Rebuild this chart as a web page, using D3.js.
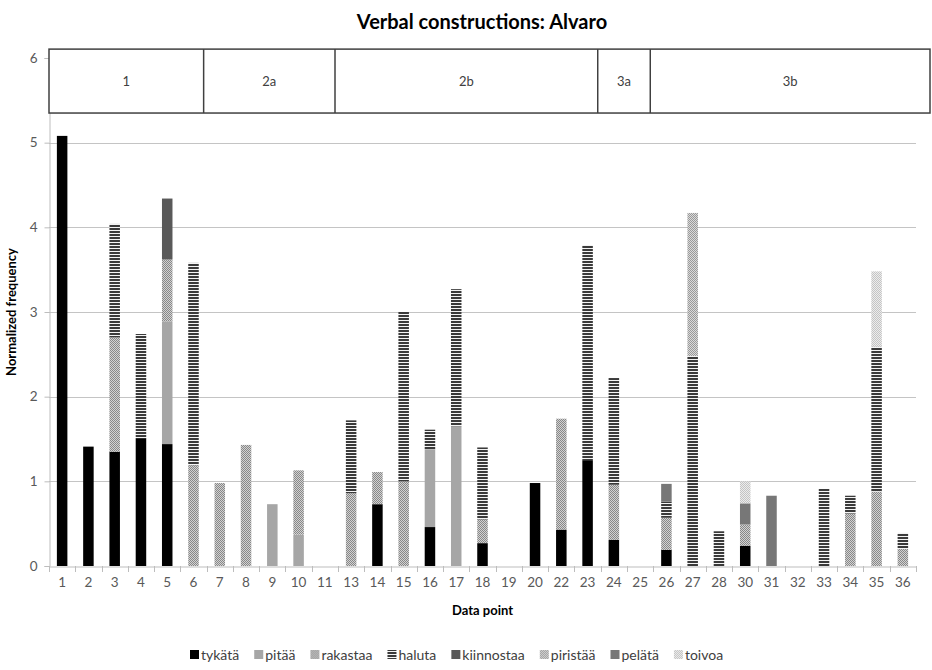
<!DOCTYPE html>
<html><head><meta charset="utf-8">
<script src="https://cdn.jsdelivr.net/npm/d3@7"></script>
<style>body{margin:0;background:#fff} svg{display:block;font-family:Lato,"Open Sans",sans-serif}</style>
</head><body><svg id="c" width="932" height="670"></svg>
<script>
// ---- data ----
const categories = ["1","2","3","4","5","6","7","8","9","10","11","13","14","15","16","17","18","19","20","22","23","24","25","26","27","28","30","31","32","33","34","35","36"];
const seriesNames = ["tykätä","pitää","rakastaa","haluta","kiinnostaa","piristää","pelätä","toivoa"];
const tykata     = [5.08,1.41,1.35,1.51,1.44,0,0,0,0,0,0, 0,0.73,0,0.46,0,0.27,0,0.98,0.43,1.25,0.31,0,0.19,0,0,0.24,0,0,0,0,0,0];
const pitaa      = [0,0,0,0,1.45,0,0,0,0.73,0.37,0, 0,0,0,0.92,1.65,0,0,0,0,0,0,0,0,0,0,0,0,0,0,0,0,0];
const rakastaa   = [0,0,1.35,0,0.73,1.19,0.98,1.43,0,0.76,0, 0.86,0.38,1.0,0,0,0.28,0,0,1.31,0,0.65,0,0.38,0,0,0.25,0,0,0,0.62,0.88,0.20];
const haluta     = [0,0,1.34,1.23,0,2.39,0,0,0,0,0, 0.86,0,2.0,0.23,1.62,0.85,0,0,0,2.54,1.26,0,0.19,2.48,0.41,0,0,0,0.91,0.21,1.71,0.19];
const kiinnostaa = [0,0,0,0,0.72,0,0,0,0,0,0, 0,0,0,0,0,0,0,0,0,0,0,0,0,0,0,0,0,0,0,0,0,0];
const piristaa   = [0,0,0,0,0,0,0,0,0,0,0, 0,0,0,0,0,0,0,0,0,0,0,0,0,1.69,0,0,0,0,0,0,0,0];
const pelata     = [0,0,0,0,0,0,0,0,0,0,0, 0,0,0,0,0,0,0,0,0,0,0,0,0.21,0,0,0.25,0.83,0,0,0,0,0];
const toivoa     = [0,0,0,0,0,0,0,0,0,0,0, 0,0,0,0,0,0,0,0,0,0,0,0,0,0,0,0.26,0,0,0,0,0.89,0];
const seriesValues = [tykata,pitaa,rakastaa,haluta,kiinnostaa,piristaa,pelata,toivoa];
const yTicks = [0,1,2,3,4,5,6];
const phaseLabels = ["1","2a","2b","3a","3b"];
const phaseFirst  = ["1","7","13","24","26"];
const title = "Verbal constructions: Alvaro";
const yTitle = "Normalized frequency";
const xTitle = "Data point";

// ---- layout ----
const L = 49, R = 916, T = 58, B = 566;
const svg = d3.select("#c");
const x = d3.scaleBand().domain(categories).range([L, R]).paddingInner(0.6).paddingOuter(0.3);
const y = d3.scaleLinear().domain([0, 6]).range([B, T]);
const step = x.step(), bw = x.bandwidth();
const gapHalf = (step - bw) / 2;

// patterns
const defs = svg.append("defs");
function checker(id, a, b) {
  const p = defs.append("pattern").attr("id", id).attr("patternUnits", "userSpaceOnUse").attr("width", 2).attr("height", 2);
  p.append("rect").attr("width", 2).attr("height", 2).attr("fill", b);
  p.append("rect").attr("x", 0).attr("y", 0).attr("width", 1).attr("height", 1).attr("fill", a);
  p.append("rect").attr("x", 1).attr("y", 1).attr("width", 1).attr("height", 1).attr("fill", a);
}
checker("pRak", "#888888", "#d2d2d2");
checker("pPir", "#999999", "#dadada");
checker("pToi", "#c4c4c4", "#ececec");
(function(){
  const p = defs.append("pattern").attr("id", "pHal").attr("patternUnits", "userSpaceOnUse").attr("width", 4).attr("height", 3);
  p.append("rect").attr("width", 4).attr("height", 3).attr("fill", "#f4f4f4");
  p.append("rect").attr("y", 0).attr("width", 4).attr("height", 2).attr("fill", "#3a3a3a");
})();
const fills = ["#000000","#a6a6a6","url(#pRak)","url(#pHal)","#595959","url(#pPir)","#777777","url(#pToi)"];

// gridlines
svg.append("g").selectAll("line").data(yTicks.filter(d => d > 0 && d < 6)).join("line")
  .attr("x1", L).attr("x2", R).attr("y1", d => Math.round(y(d)) + 0.5).attr("y2", d => Math.round(y(d)) + 0.5)
  .attr("stroke", "#c4c4c4").attr("stroke-width", 1);

// y axis
const yAxis = svg.append("g").attr("transform", `translate(${L + 0.5},0)`)
  .call(d3.axisLeft(y).tickValues(yTicks).tickSize(5).tickPadding(7).tickFormat(d3.format("d")));
yAxis.select(".domain").attr("stroke", "#bdbdbd");
yAxis.selectAll(".tick line").attr("stroke", "#bdbdbd");
yAxis.selectAll(".tick text").attr("font-size", 13.5).attr("fill", "#595959").attr("font-family", "Lato");

// x axis
const xAxis = svg.append("g").attr("transform", `translate(0,${B + 0.5})`)
  .call(d3.axisBottom(x).tickSize(0).tickPadding(11));
xAxis.select(".domain").attr("stroke", "#bdbdbd");
xAxis.selectAll(".tick text").attr("font-size", 13.5).attr("fill", "#595959").attr("font-family", "Lato");
svg.append("g").selectAll("line").data(categories.concat(["__end"])).join("line")
  .attr("x1", d => Math.round(d === "__end" ? R : x(d) - gapHalf) + 0.5)
  .attr("x2", d => Math.round(d === "__end" ? R : x(d) - gapHalf) + 0.5)
  .attr("y1", B).attr("y2", B + 6).attr("stroke", "#bdbdbd");

// stacked bars
const rows = categories.map((c, i) => { const o = { cat: c }; seriesNames.forEach((s, k) => o[s] = seriesValues[k][i]); return o; });
const stacked = d3.stack().keys(seriesNames)(rows);
svg.append("g").selectAll("g").data(stacked).join("g")
  .attr("fill", (d, i) => fills[i])
  .selectAll("rect").data(d => d.filter(v => v[1] - v[0] > 0)).join("rect")
  .attr("x", d => x(d.data.cat)).attr("width", bw)
  .attr("y", d => y(d[1])).attr("height", d => y(d[0]) - y(d[1]));

// phase box
const boxTop = y(6.105), boxBot = y(5.35);
const phaseEdges = phaseFirst.map((c, i) => i === 0 ? L : x(c) - gapHalf - 3);
const boxRight = R + 14;
const bg = svg.append("g");
bg.append("rect").attr("x", L).attr("y", boxTop).attr("width", boxRight - L).attr("height", boxBot - boxTop)
  .attr("fill", "#fff").attr("stroke", "#404040").attr("stroke-width", 1.5);
bg.selectAll("line").data(phaseEdges.slice(1)).join("line")
  .attr("x1", d => d).attr("x2", d => d).attr("y1", boxTop).attr("y2", boxBot)
  .attr("stroke", "#404040").attr("stroke-width", 1.5);
const phaseRight = phaseEdges.slice(1).concat([boxRight]);
bg.selectAll("text").data(phaseLabels).join("text")
  .attr("x", (d, i) => (phaseEdges[i] + phaseRight[i]) / 2).attr("y", (boxTop + boxBot) / 2)
  .attr("dy", "0.35em").attr("text-anchor", "middle").attr("font-size", 13).attr("fill", "#404040").text(d => d);

// titles
svg.append("text").attr("x", 482).attr("y", 29).attr("text-anchor", "middle")
  .attr("font-size", 20).attr("font-weight", "bold").attr("fill", "#000").text(title);
svg.append("text").attr("transform", `translate(16,${(T + B) / 2}) rotate(-90)`).attr("text-anchor", "middle")
  .attr("font-size", 13).attr("font-weight", "bold").attr("fill", "#000").text(yTitle);
svg.append("text").attr("x", (L + R) / 2).attr("y", 615).attr("text-anchor", "middle")
  .attr("font-size", 13).attr("font-weight", "bold").attr("fill", "#000").text(xTitle);

// legend
const lg = svg.append("g");
const items = lg.selectAll("g").data(seriesNames).join("g");
items.append("rect").attr("width", 9).attr("height", 9).attr("y", -5).attr("fill", (d, i) => fills[i]);
items.append("text").attr("x", 11).attr("dy", "0.35em").attr("font-size", 14).attr("fill", "#404040").text(d => d);
let cx = 0; const pos = [];
items.each(function() { pos.push(cx); cx += this.getBBox().width + 15; });
cx -= 15;
items.attr("transform", (d, i) => `translate(${pos[i]},0)`);
lg.attr("transform", `translate(${Math.round(457 - cx / 2)},655)`);
</script></body></html>
